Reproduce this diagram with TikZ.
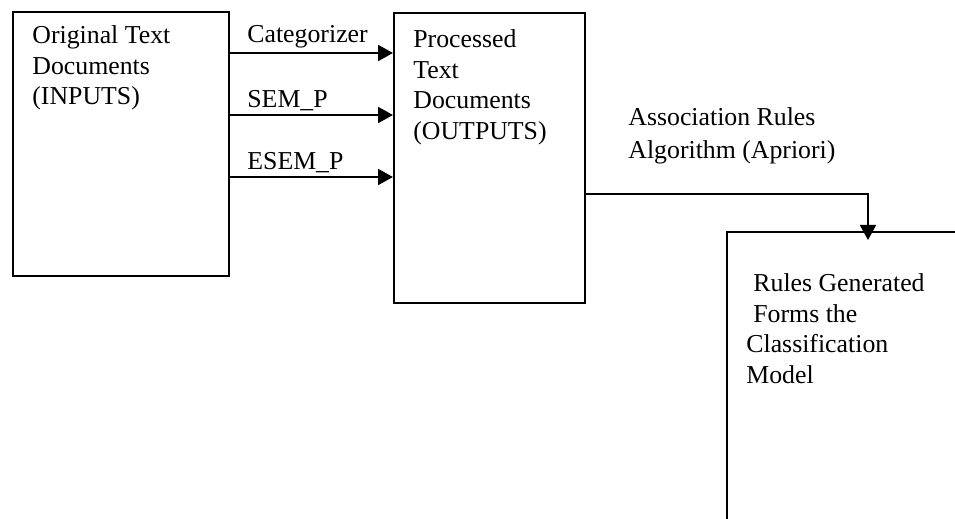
\documentclass[tikz,border=0pt]{standalone}
\usepackage{fontspec}
\setmainfont{Liberation Serif}
\usetikzlibrary{arrows.meta}
\begin{document}
\begin{tikzpicture}[x=0.5pt,y=-0.5pt,
  box/.style={draw, line width=1pt, inner sep=0pt, anchor=north west},
  txt/.style={inner sep=0pt, anchor=north west, align=left,
    font=\fontsize{12.9}{15.3}\selectfont},
  lbl/.style={inner sep=0pt, anchor=base west, font=\fontsize{12.9}{15.3}\selectfont},
  flow/.style={line width=1pt, -{Triangle[length=7.5pt,width=8pt]}}
]
\useasboundingbox (0,0) rectangle (955,519);
\clip (0,0) rectangle (955,519);

% boxes
\node[box, minimum width=108.25pt, minimum height=132pt] (inputs) at (11.5,11) {};
\node[box, minimum width=95.5pt, minimum height=144.75pt] (outputs) at (393,12.5) {};
\node[inner sep=0pt, anchor=north west, minimum width=150pt, minimum height=175pt] (model) at (727,232) {};
\draw[line width=1pt] (model.south west) -- (model.north west) -- (model.north east);

% box texts
\node[txt] (tin) at (32,21.6) {\strut Original Text\\Documents\\(INPUTS)};
\node[txt] (tout) at (413,25.6) {\strut Processed\\Text\\Documents\\(OUTPUTS)};
\node[txt] (tmodel) at (746,269.6) {\strut\hspace*{3.5pt}Rules Generated\\\hspace*{3.5pt}Forms the\\Classification\\Model};

% processing connectors
\draw[flow] (inputs.east |- 0,53) -- (outputs.west |- 0,53);
\draw[flow] (inputs.east |- 0,115) -- (outputs.west |- 0,115);
\draw[flow] (inputs.east |- 0,177) -- (outputs.west |- 0,177);
\node[lbl] (lcat) at (247,43) {Categorizer};
\node[lbl] (lsem) at (247,108) {SEM\_P};
\node[lbl] (lesem) at (247,170) {ESEM\_P};

% rule mining connector
\draw[flow, shorten >=-4pt] (outputs.east |- 0,194) -| ([xshift=70.5pt]model.north west);
\node[txt, font=\fontsize{12.9}{16.7}\selectfont] (lassoc) at (628,101.6)
  {\strut Association Rules\\Algorithm (Apriori)};
\end{tikzpicture}
\end{document}
